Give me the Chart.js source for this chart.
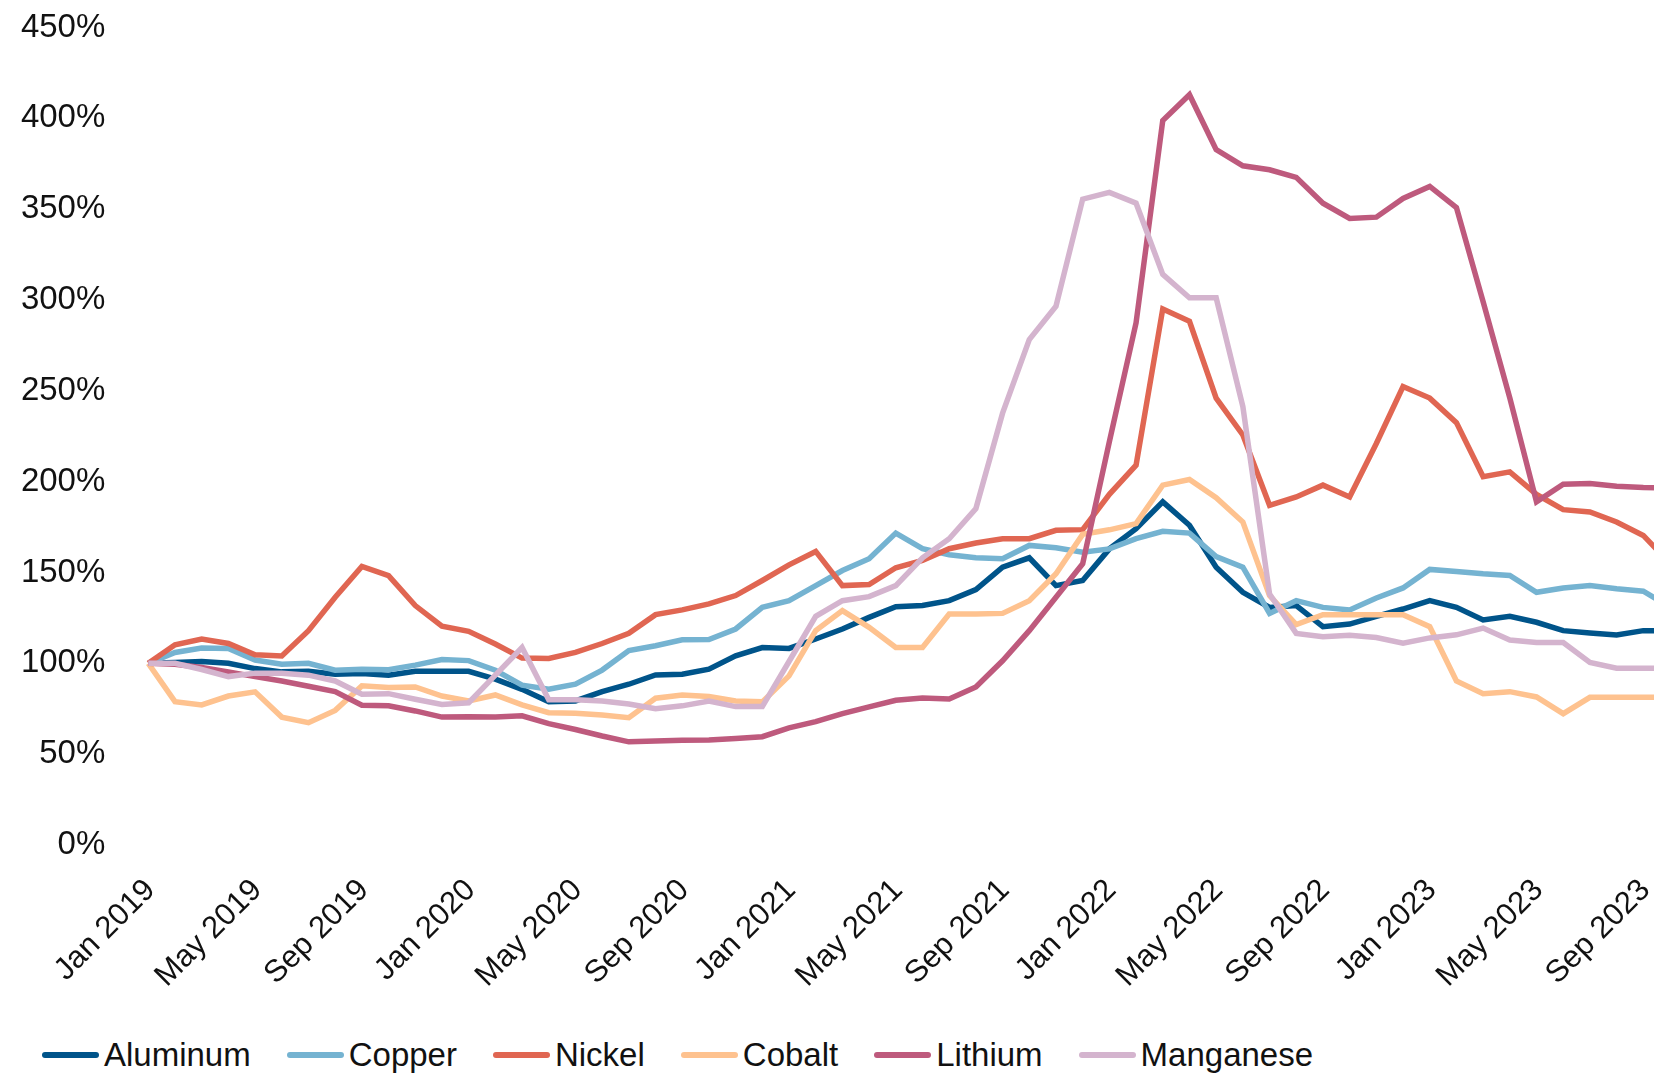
<!DOCTYPE html>
<html>
<head>
<meta charset="utf-8">
<title>Battery metals price index</title>
<script src="https://cdn.jsdelivr.net/npm/chart.js@4.4.1/dist/chart.umd.min.js"></script>
<style>
  html, body { margin: 0; padding: 0; background: #fff; overflow: hidden; width: 1654px; height: 1074px; }
  #wrap { position: absolute; left: 0; top: 0; width: 1700px; height: 1010px; }
  #legend { position: absolute; left: 42px; top: 1036px; display: flex; align-items: center;
            font: 33px "Liberation Sans", Arial, sans-serif; color: #111; line-height: 38px; }
  .item { display: flex; align-items: center; margin-right: 36px; }
  .swatch { width: 57px; height: 6px; border-radius: 3px; margin-right: 5px; }
</style>
</head>
<body>
<div id="wrap"><canvas id="metalsChart" width="1700" height="1010"></canvas></div>
<div id="legend"></div>

<script>
// Monthly index, Jan 2019 = 100%
const monthNames = ['Jan', 'Feb', 'Mar', 'Apr', 'May', 'Jun', 'Jul', 'Aug', 'Sep', 'Oct', 'Nov', 'Dec'];
const months = [];
for (let y = 2019; y <= 2023; y++) {
    for (let m = 0; m < 12; m++) {
        if (y === 2023 && m > 9) break; // data runs to Oct 2023
        months.push(monthNames[m] + ' ' + y);
    }
}

const aluminum = [
    100, 100.5, 101, 100, 97.1, 95.3, 95.7, 94, 94.4, 93.5,
    95.6, 95.6, 95.6, 91.3, 85.7, 78.9, 79.3, 84.4, 88.5, 93.6,
    94, 96.8, 104.1, 108.7, 108.2, 113.4, 118.9, 125.3, 131.2, 131.8,
    134.5, 140.6, 152.9, 158.1, 142.8, 145.6, 163, 174.1, 188.9, 176,
    152.9, 139.1, 130.8, 131.8, 120.2, 121.6, 125.9, 129.9, 134.5, 130.8,
    123.9, 125.9, 122.6, 118, 116.7, 115.6, 118, 118
];
const copper = [
    100, 106, 108.4, 108.2, 101.8, 99.5, 100, 96.2, 96.7, 96.5,
    99, 102.1, 101.5, 96.2, 88, 85.7, 88.5, 96.3, 107, 109.7,
    113, 113.1, 118.9, 130.8, 134.5, 142.8, 151.1, 157.6, 171.7, 163.1,
    159.8, 158.1, 157.6, 164.9, 163.6, 161.2, 163, 168.6, 172.7, 171.7,
    158.8, 152.9, 127.5, 134.5, 130.8, 129.4, 136, 141.5, 151.7, 150.6,
    149.3, 148.4, 139.1, 141.5, 142.8, 141, 139.7, 131
];
const nickel = [
    100, 110.2, 113.4, 110.9, 104.7, 104.1, 118, 136.4, 153.3, 148.3,
    131.8, 120.5, 117.6, 110.6, 102.9, 102.7, 106, 110.9, 116.5, 126.8,
    129.4, 132.7, 137.3, 145.6, 154.2, 161.6, 142.8, 143.4, 152.6, 156.6,
    163.1, 166.2, 168.6, 168.6, 173.2, 173.6, 193, 209.1, 295.1, 288.3,
    246, 225.7, 187, 191.6, 198.1, 191.6, 221, 252.4, 246, 232.5,
    202.7, 205.4, 193, 184.6, 183.3, 177.8, 170.4, 155
];
const cobalt = [
    100, 78.9, 77.1, 82, 84.3, 70.4, 67.3, 74.1, 87.6, 86.7,
    87, 82, 79.3, 82.6, 77.1, 72.8, 72.5, 71.5, 70.1, 80.8,
    82.6, 81.7, 79.3, 78.8, 93.1, 118, 129, 119.8, 108.7, 108.7,
    127.2, 127.2, 127.5, 134.5, 149.3, 171, 173.5, 176.9, 198.1, 201.2,
    191.2, 177.8, 137.3, 121.3, 126.8, 126.8, 126.8, 126.8, 120.2, 90.3,
    83.3, 84.4, 81.5, 72.3, 81.3, 81.3, 81.3, 81.3
];
const lithium = [
    100, 99.5, 97.7, 95.3, 92.7, 90.3, 87.4, 84.4, 76.9, 76.6,
    73.8, 70.4, 70.6, 70.4, 71.1, 66.8, 63.6, 60, 56.8, 57.2,
    57.6, 57.8, 58.6, 59.6, 64.5, 67.9, 72.3, 76, 79.7, 80.9,
    80.4, 87, 101.4, 118, 136.4, 154.8, 222, 287.4, 398.8, 413,
    382.8, 373.9, 371.7, 367.5, 353.3, 344.9, 345.6, 355.9, 362.5, 350.9,
    299, 246, 188.9, 198.6, 199, 197.5, 196.8, 196.5
];
const manganese = [
    100, 100, 96.6, 92.7, 94.6, 94.6, 93.5, 90.3, 83, 83.3,
    80.2, 77.4, 78.3, 93.5, 108.7, 80, 80, 79.3, 77.6, 75,
    76.6, 79.3, 76.2, 76.2, 101, 125.9, 134.5, 136.7, 142.8, 158.1,
    168.6, 185.2, 237.7, 278.2, 296.6, 355.5, 359.2, 353.3, 314.1, 301.2,
    301.2, 241.3, 138.2, 116.5, 114.6, 115.4, 114.2, 111.1, 114, 115.7,
    119.4, 112.8, 111.5, 111.5, 100.5, 97.3, 97.3, 97.3
];

const seriesNames = ['Aluminum', 'Copper', 'Nickel', 'Cobalt', 'Lithium', 'Manganese'];
const seriesColors = ['#00548a', '#75b3d1', '#e06652', '#fec28f', '#be5a7d', '#d4b4ce'];
const seriesValues = [aluminum, copper, nickel, cobalt, lithium, manganese];

const FONT = '"Liberation Sans", Arial, sans-serif';

const datasets = seriesNames.map((name, i) => ({
    label: name,
    data: seriesValues[i],
    borderColor: seriesColors[i],
    backgroundColor: seriesColors[i],
    borderWidth: 5.5,
    pointRadius: 0,
    tension: 0,
    fill: false,
    order: seriesNames.length - i // later series sit on top
}));

const chart = new Chart(document.getElementById('metalsChart'), {
    type: 'line',
    data: { labels: months, datasets: datasets },
    options: {
        responsive: false,
        devicePixelRatio: 1,
        animation: false,
        events: [],
        layout: { padding: { top: 27.5, right: 30, left: 0, bottom: 0 } },
        plugins: {
            legend: { display: false },
            tooltip: { enabled: false }
        },
        scales: {
            x: {
                offset: false,
                grid: { display: false },
                border: { display: false },
                afterFit: (scale) => {
                    // fixed label band; the last month runs just past the visible edge
                    scale.height = 165;
                    scale.paddingLeft = 0;
                    scale.paddingRight = 0;
                },
                ticks: {
                    autoSkip: false,
                    minRotation: 45,
                    maxRotation: 45,
                    padding: 19,
                    labelOffset: 2,
                    color: '#111',
                    font: { family: FONT, size: 31 },
                    callback: (v, i) => (i % 4 === 0 ? months[i] : '')
                }
            },
            y: {
                min: 0,
                max: 450,
                grid: { display: false },
                border: { display: false },
                afterFit: (scale) => {
                    // fixed gutter; keep tick padding out of the top/bottom margins
                    scale.width = 148.3;
                    scale.paddingTop = 0;
                    scale.paddingBottom = 0;
                },
                ticks: {
                    stepSize: 50,
                    padding: 35,
                    color: '#111',
                    font: { family: FONT, size: 33 },
                    callback: (v) => v + '%'
                }
            }
        }
    }
});

// Legend built from the chart's datasets
const legendEl = document.getElementById('legend');
chart.data.datasets.forEach(ds => {
    const item = document.createElement('div');
    item.className = 'item';
    const sw = document.createElement('span');
    sw.className = 'swatch';
    sw.style.background = ds.borderColor;
    const txt = document.createElement('span');
    txt.textContent = ds.label;
    item.appendChild(sw);
    item.appendChild(txt);
    legendEl.appendChild(item);
});
</script>
</body>
</html>
